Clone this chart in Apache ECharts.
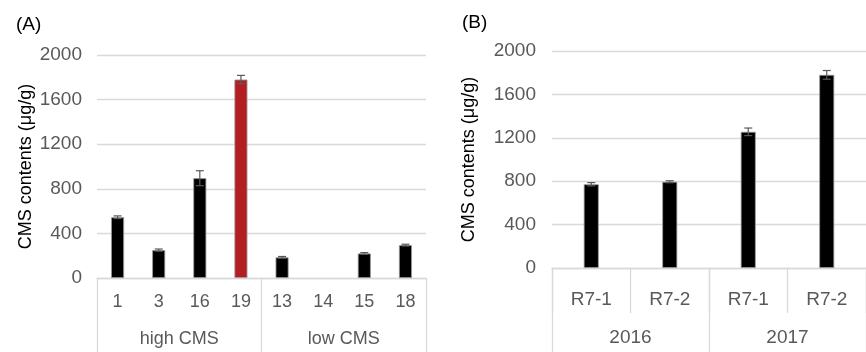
<!DOCTYPE html>
<html><head><meta charset="utf-8">
<script src="https://cdn.jsdelivr.net/npm/echarts@6/dist/echarts.min.js"></script>
<style>html,body{margin:0;padding:0;background:#fff}#c{width:866px;height:352px}</style>
</head><body><div id="c"></div>
<script>
const catsA = ['1','3','16','19','13','14','15','18'];
const groupsA = ['high CMS','low CMS'];
const valsA = [545, 250, 895, 1780, 185, 0, 220, 295];
const errA = [12, 10, 67, 37, 8, 0, 8, 8];
const catsB = ['R7-1','R7-2','R7-1','R7-2'];
const groupsB = ['2016','2017'];
const valsB = [772, 795, 1255, 1780];
const errB = [15, 9, 35, 40];
const yTicks = [0, 400, 800, 1200, 1600, 2000];

const FF = '"Liberation Sans", Arial, sans-serif';
const GRAY = '#595959';
const LINE = '#D9D9D9';
const RED = '#B31E23';

function errSeries(xi, yi, vals, errs){
  return {
    type:'custom', xAxisIndex:xi, yAxisIndex:yi, z:10,
    data: vals.map((v,i)=>[i, v, errs[i]]),
    renderItem:function(params, api){
      const x = api.value(0), v = api.value(1), e = api.value(2);
      if(!e) return;
      const t = api.coord([x, v+e]), b = api.coord([x, v-e]);
      const w = 4;
      const st = {stroke:'#5a5a5a', lineWidth:1.2};
      return {type:'group', children:[
        {type:'line', shape:{x1:t[0],y1:t[1],x2:b[0],y2:b[1]}, style:st},
        {type:'line', shape:{x1:t[0]-w,y1:t[1],x2:t[0]+w,y2:t[1]}, style:st},
        {type:'line', shape:{x1:b[0]-w,y1:b[1],x2:b[0]+w,y2:b[1]}, style:st}
      ]};
    }
  };
}

function yAxis(gi, margin){
  return {
    type:'value', gridIndex:gi, min:0, max:2000, interval:400,
    name:'CMS contents (μg/g)', nameLocation:'middle', nameRotate:90,
    nameGap: gi===0 ? 62 : 74,
    nameTextStyle:{fontFamily:FF, fontSize:18, color:'#000'},
    axisLine:{show:false}, axisTick:{show:false},
    axisLabel:{fontFamily:FF, fontSize:19, color:GRAY, margin:margin,
      formatter:function(v){ return yTicks.indexOf(v)>=0 ? String(v) : ''; }},
    splitLine:{lineStyle:{color:LINE, width:1.3}}
  };
}

const chart = echarts.init(document.getElementById('c'), null, {renderer:'canvas'});
chart.setOption({
  animation:false,
  title:[
    {text:'(A)', left:11, top:10, textStyle:{fontFamily:FF, fontSize:19, fontWeight:'normal', color:'#000'}},
    {text:'(B)', left:457, top:8, textStyle:{fontFamily:FF, fontSize:19, fontWeight:'normal', color:'#000'}}
  ],
  grid:[
    {left:97, top:55, width:329, height:223},
    {left:552, top:51, width:322, height:217}
  ],
  xAxis:[
    {type:'category', gridIndex:0, data:catsA, position:'bottom',
      axisLine:{lineStyle:{color:LINE, width:1.3}}, axisTick:{show:false},
      axisLabel:{fontFamily:FF, fontSize:18, color:GRAY, margin:15}},
    {type:'category', gridIndex:0, data:groupsA, position:'bottom',
      axisLine:{show:false},
      axisTick:{show:true, length:74, lineStyle:{color:LINE, width:1.3}},
      axisLabel:{fontFamily:FF, fontSize:18, color:GRAY, margin:52}},
    {type:'category', gridIndex:1, data:catsB, position:'bottom',
      axisLine:{lineStyle:{color:LINE, width:1.3}},
      axisTick:{show:true, length:45, lineStyle:{color:LINE, width:1.3}},
      axisLabel:{fontFamily:FF, fontSize:19, color:GRAY, margin:22}},
    {type:'category', gridIndex:1, data:groupsB, position:'bottom',
      axisLine:{show:false},
      axisTick:{show:true, length:84, lineStyle:{color:LINE, width:1.3}},
      axisLabel:{fontFamily:FF, fontSize:19, color:GRAY, margin:60}}
  ],
  yAxis:[ yAxis(0, 15), yAxis(1, 16) ],
  series:[
    {type:'bar', xAxisIndex:0, yAxisIndex:0, barWidth:13,
      data: valsA.map((v,i)=>({value:v, itemStyle:{color: catsA[i]==='19' ? RED : '#000', borderWidth: v ? 0.8 : 0}})),
      itemStyle:{borderColor:'#9a9a9a', borderWidth:0.8}},
    errSeries(0, 0, valsA, errA),
    {type:'bar', xAxisIndex:2, yAxisIndex:1, barWidth:15, data: valsB,
      itemStyle:{color:'#000', borderColor:'#9a9a9a', borderWidth:0.8}},
    errSeries(2, 1, valsB, errB)
  ]
});
</script></body></html>
